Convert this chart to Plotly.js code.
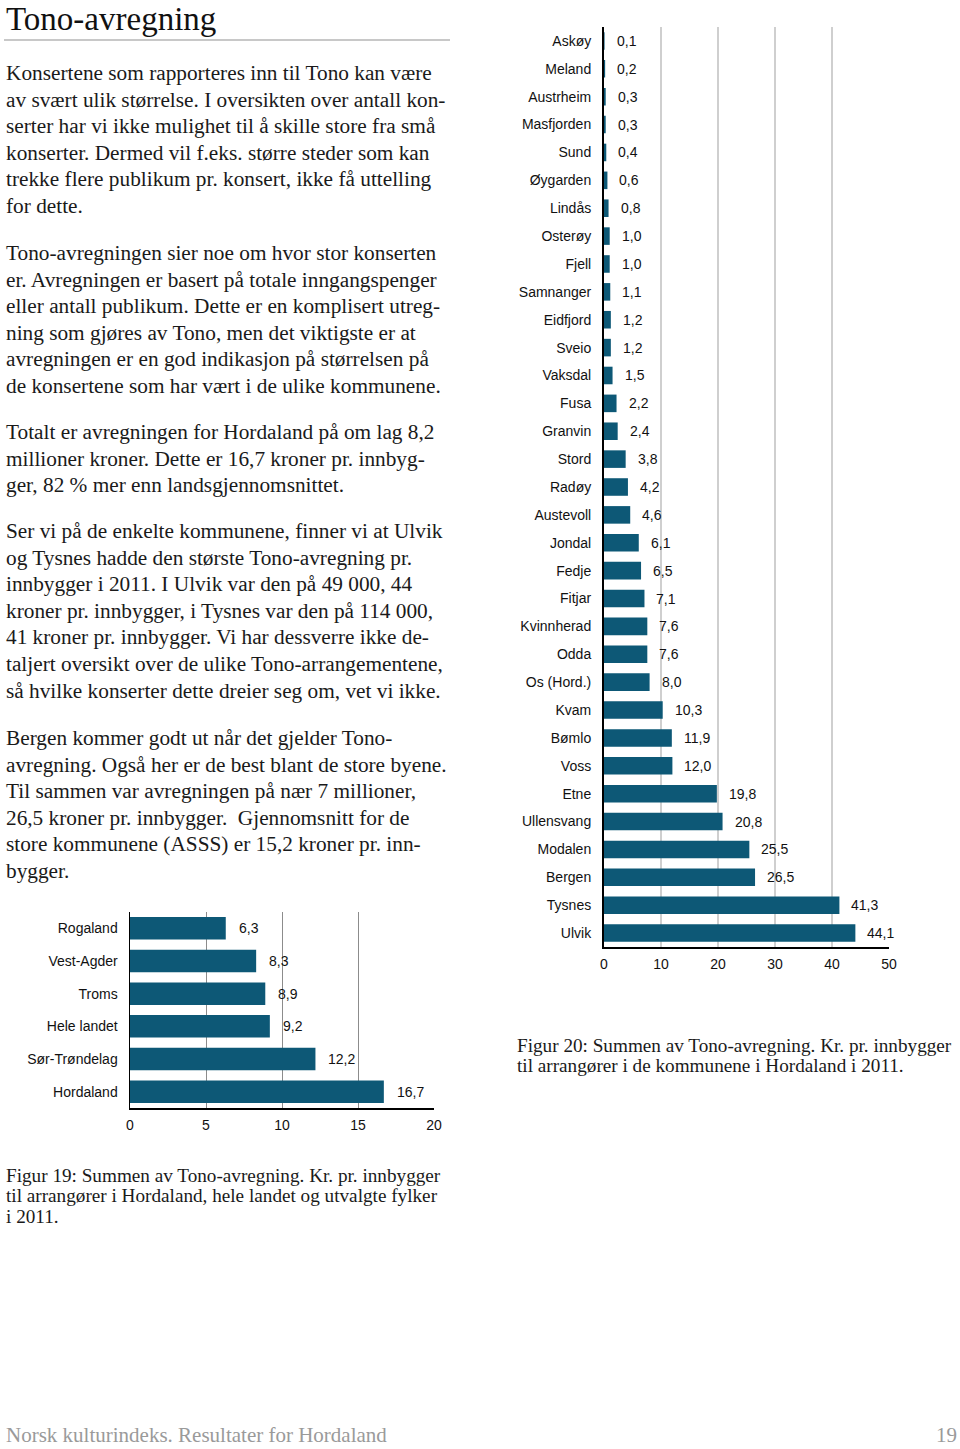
<!DOCTYPE html>
<html>
<head>
<meta charset="utf-8">
<script src="https://cdn.plot.ly/plotly-3.0.1.min.js"></script>
<style>
html,body{margin:0;padding:0;background:#fff;}
#chart{width:960px;height:1449px;}
</style>
</head>
<body>
<div id="chart"></div>
<script>
// ---- Data: Figure 19 (counties) ----
const fylker = ["Rogaland", "Vest-Agder", "Troms", "Hele landet", "Sør-Trøndelag", "Hordaland"];
const fylkeVerdier = [6.3, 8.3, 8.9, 9.2, 12.2, 16.7];
const fylkeTicks = [0, 5, 10, 15, 20];

// ---- Data: Figure 20 (municipalities in Hordaland) ----
const kommuner = ["Askøy", "Meland", "Austrheim", "Masfjorden", "Sund", "Øygarden", "Lindås", "Osterøy", "Fjell", "Samnanger", "Eidfjord", "Sveio", "Vaksdal", "Fusa", "Granvin", "Stord", "Radøy", "Austevoll", "Jondal", "Fedje", "Fitjar", "Kvinnherad", "Odda", "Os (Hord.)", "Kvam", "Bømlo", "Voss", "Etne", "Ullensvang", "Modalen", "Bergen", "Tysnes", "Ulvik"];
const kommuneVerdier = [0.1, 0.2, 0.3, 0.3, 0.4, 0.6, 0.8, 1.0, 1.0, 1.1, 1.2, 1.2, 1.5, 2.2, 2.4, 3.8, 4.2, 4.6, 6.1, 6.5, 7.1, 7.6, 7.6, 8.0, 10.3, 11.9, 12.0, 19.8, 20.8, 25.5, 26.5, 41.3, 44.1];
const kommuneTicks = [0, 10, 20, 30, 40, 50];

// ---- Text ----
const tittel = "Tono-avregning";
const avsnitt = [
  ["Konsertene som rapporteres inn til Tono kan være",
   "av svært ulik størrelse. I oversikten over antall kon-",
   "serter har vi ikke mulighet til å skille store fra små",
   "konserter. Dermed vil f.eks. større steder som kan",
   "trekke flere publikum pr. konsert, ikke få uttelling",
   "for dette."],
  ["Tono-avregningen sier noe om hvor stor konserten",
   "er. Avregningen er basert på totale inngangspenger",
   "eller antall publikum. Dette er en komplisert utreg-",
   "ning som gjøres av Tono, men det viktigste er at",
   "avregningen er en god indikasjon på størrelsen på",
   "de konsertene som har vært i de ulike kommunene."],
  ["Totalt er avregningen for Hordaland på om lag 8,2",
   "millioner kroner. Dette er 16,7 kroner pr. innbyg-",
   "ger, 82 % mer enn landsgjennomsnittet."],
  ["Ser vi på de enkelte kommunene, finner vi at Ulvik",
   "og Tysnes hadde den største Tono-avregning pr.",
   "innbygger i 2011. I Ulvik var den på 49 000, 44",
   "kroner pr. innbygger, i Tysnes var den på 114 000,",
   "41 kroner pr. innbygger. Vi har dessverre ikke de-",
   "taljert oversikt over de ulike Tono-arrangementene,",
   "så hvilke konserter dette dreier seg om, vet vi ikke."],
  ["Bergen kommer godt ut når det gjelder Tono-",
   "avregning. Også her er de best blant de store byene.",
   "Til sammen var avregningen på nær 7 millioner,",
   "26,5 kroner pr. innbygger.  Gjennomsnitt for de",
   "store kommunene (ASSS) er 15,2 kroner pr. inn-",
   "bygger."]
];
const figur19Tekst = ["Figur 19: Summen av Tono-avregning. Kr. pr. innbygger",
  "til arrangører i Hordaland, hele landet og utvalgte fylker",
  "i 2011."];
const figur20Tekst = ["Figur 20: Summen av Tono-avregning. Kr. pr. innbygger",
  "til arrangører i de kommunene i Hordaland i 2011."];
const bunntekst = "Norsk kulturindeks. Resultater for Hordaland";
const sidetall = "19";

// ---- Layout helpers ----
const W = 960, H = 1449;
const py = p => 1 - p / H;
const px = p => p / W;
const fmt = v => v.toFixed(1).replace('.', ',');
const barColor = '#0d5876';
const serif = 'Liberation Serif, Times New Roman, serif';
const sans = 'Liberation Sans, Arial, sans-serif';

const annotations = [];
function addLines(lines, x, y0, pitch, size, color, anchor, yanchor) {
  lines.forEach((t, i) => {
    annotations.push({
      text: t, xref: 'paper', yref: 'paper', x: px(x), y: py(y0 + i * pitch),
      xanchor: anchor || 'left', yanchor: yanchor || 'middle', showarrow: false,
      font: {family: serif, size: size, color: color || '#1a1a1a'}, borderpad: 0
    });
  });
}
addLines([tittel], 5, 0.5, 0, 33, '#111', 'left', 'top');
const starts = [73, 253, 432, 531, 738];
avsnitt.forEach((p, i) => addLines(p, 5, starts[i], 26.6, 21.3, '#1a1a1a'));
addLines(figur19Tekst, 5, 1175, 20.5, 19.2, '#1a1a1a');
addLines(figur20Tekst, 516, 1045, 20.5, 19.2, '#1a1a1a');
addLines([bunntekst], 5, 1448, 0, 21, '#9a9a9a', 'left', 'bottom');
addLines([sidetall], 958, 1448, 0, 21, '#9a9a9a', 'right', 'bottom');

// value labels
fylker.forEach((c, i) => annotations.push({
  text: fmt(fylkeVerdier[i]), xref: 'x', yref: 'y', x: fylkeVerdier[i], y: c,
  xanchor: 'left', yanchor: 'middle', xshift: 11, showarrow: false,
  font: {family: sans, size: 14, color: '#111'}
}));
kommuner.forEach((c, i) => annotations.push({
  text: fmt(kommuneVerdier[i]), xref: 'x2', yref: 'y2', x: kommuneVerdier[i], y: c,
  xanchor: 'left', yanchor: 'middle', xshift: 10, showarrow: false,
  font: {family: sans, size: 14, color: '#111'}
}));

const traces = [
  {type: 'bar', orientation: 'h', x: fylkeVerdier, y: fylker, xaxis: 'x', yaxis: 'y',
   marker: {color: barColor}, width: 0.69, hoverinfo: 'none'},
  {type: 'bar', orientation: 'h', x: kommuneVerdier, y: kommuner, xaxis: 'x2', yaxis: 'y2',
   marker: {color: barColor}, width: 0.63, hoverinfo: 'none'}
];

const layout = {
  width: W, height: H, margin: {l: 0, r: 0, t: 0, b: 0},
  paper_bgcolor: '#fff', plot_bgcolor: '#fff', showlegend: false,
  font: {family: sans, size: 14, color: '#111'},
  xaxis: {domain: [px(130), px(434)], anchor: 'y', range: [0, 20], tickvals: fylkeTicks,
    showgrid: true, gridcolor: '#8c8c8c', gridwidth: 1, zeroline: false,
    showline: true, linecolor: '#000', linewidth: 1.5, ticks: '', ticklabelstandoff: 4,
    tickfont: {family: sans, size: 14, color: '#111'}, fixedrange: true},
  yaxis: {domain: [py(1108), py(912)], anchor: 'x', autorange: 'reversed', type: 'category',
    showgrid: false, showline: true, linecolor: '#000', linewidth: 1.5, ticks: '',
    ticklabelstandoff: 8, tickfont: {family: sans, size: 14, color: '#111'}, fixedrange: true},
  xaxis2: {domain: [px(604), px(889)], anchor: 'y2', range: [0, 50], tickvals: kommuneTicks,
    showgrid: true, gridcolor: '#cfcfcf', gridwidth: 1.5, zeroline: false,
    showline: true, linecolor: '#000', linewidth: 1.5, ticks: '', ticklabelstandoff: 4,
    tickfont: {family: sans, size: 14, color: '#111'}, fixedrange: true},
  yaxis2: {domain: [py(947), py(27)], anchor: 'x2', autorange: 'reversed', type: 'category',
    showgrid: false, showline: true, linecolor: '#000', linewidth: 2, ticks: '',
    ticklabelstandoff: 8, tickfont: {family: sans, size: 14, color: '#111'}, fixedrange: true},
  shapes: [
    {type: 'line', xref: 'paper', yref: 'paper', x0: px(4), x1: px(450), y0: py(40), y1: py(40),
     line: {color: '#c8c8c8', width: 2}}
  ],
  annotations: annotations
};

Plotly.newPlot('chart', traces, layout, {displayModeBar: false, staticPlot: true});
</script>
</body>
</html>
